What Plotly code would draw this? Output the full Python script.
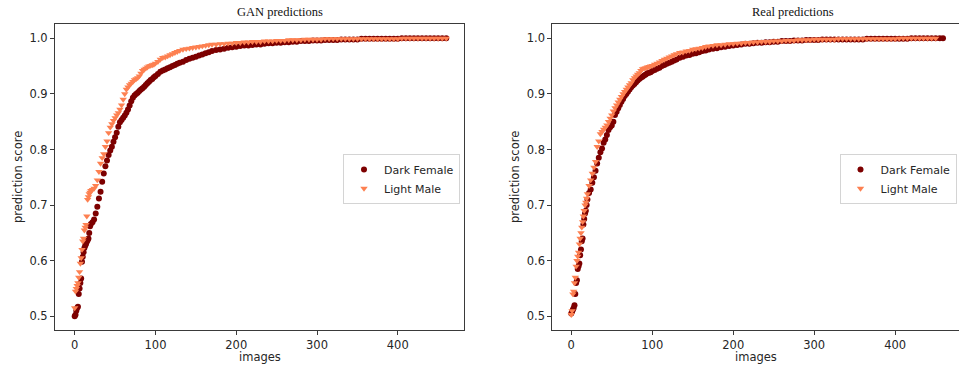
import plotly.graph_objects as go

# ---------------- data ----------------
series_names = ["Dark Female", "Light Male"]
panel_titles = ["GAN predictions", "Real predictions"]
x_ticks = [0, 100, 200, 300, 400]
y_ticks = [0.5, 0.6, 0.7, 0.8, 0.9, 1.0]

gan_idx = (list(range(0, 21)) + list(range(22, 101, 2)) + list(range(103, 131, 3))
           + list(range(134, 171, 4)) + list(range(175, 201, 5)) + list(range(205, 461, 5)))

gan_dark = [
    0.500, 0.503, 0.510, 0.515, 0.517, 0.540, 0.550, 0.560, 0.568, 0.598, 0.607,
    0.615, 0.623, 0.627, 0.630, 0.634, 0.637, 0.640, 0.650, 0.662, 0.666,
    0.669, 0.674, 0.685, 0.697, 0.712, 0.724, 0.742, 0.757, 0.770, 0.780,
    0.790, 0.798, 0.805, 0.814, 0.822, 0.830, 0.841, 0.849, 0.853, 0.857,
    0.861, 0.866, 0.872, 0.879, 0.887, 0.893, 0.897, 0.900, 0.902, 0.905,
    0.908, 0.910, 0.913, 0.916, 0.919, 0.922, 0.925, 0.927, 0.930, 0.932,
    0.936, 0.940, 0.942, 0.944, 0.946, 0.948, 0.950, 0.952, 0.954, 0.956,
    0.958, 0.961, 0.963, 0.965, 0.967, 0.969, 0.971, 0.973, 0.975, 0.977,
    0.979, 0.980, 0.981, 0.983, 0.984, 0.985,
    0.986, 0.987, 0.987, 0.988, 0.989, 0.989, 0.990, 0.991, 0.991, 0.992,
    0.992, 0.993, 0.993, 0.994, 0.994, 0.995, 0.995, 0.995, 0.996, 0.996,
    0.996, 0.997, 0.997, 0.997, 0.997, 0.998, 0.998, 0.998, 0.998, 0.998,
    0.999, 0.999, 0.999, 0.999, 0.999, 0.999, 0.999, 0.999, 0.999, 0.999,
    1.000, 1.000, 1.000, 1.000, 1.000, 1.000, 1.000, 1.000, 1.000, 1.000, 1.000, 1.000,
]

gan_light = [
    0.515, 0.545, 0.550, 0.555, 0.560, 0.570, 0.580, 0.595, 0.605, 0.620, 0.635,
    0.640, 0.655, 0.660, 0.665, 0.680, 0.710, 0.715, 0.720, 0.723, 0.726,
    0.728, 0.730, 0.735, 0.745, 0.760, 0.775, 0.785, 0.792, 0.805, 0.815,
    0.830, 0.840, 0.846, 0.852, 0.857, 0.862, 0.866, 0.872, 0.880, 0.890,
    0.900, 0.908, 0.912, 0.916, 0.919, 0.922, 0.925, 0.927, 0.929, 0.932,
    0.937, 0.942, 0.944, 0.946, 0.948, 0.950, 0.951, 0.952, 0.953, 0.955,
    0.958, 0.962, 0.965, 0.966, 0.968, 0.970, 0.972, 0.974, 0.976, 0.978,
    0.980, 0.981, 0.982, 0.983, 0.984, 0.985, 0.986, 0.987, 0.988, 0.989,
    0.989, 0.990, 0.990, 0.991, 0.991, 0.992,
    0.992, 0.993, 0.993, 0.994, 0.994, 0.994, 0.995, 0.995, 0.995, 0.996,
    0.996, 0.996, 0.997, 0.997, 0.997, 0.997, 0.998, 0.998, 0.998, 0.998,
    0.998, 0.999, 0.999, 0.999, 0.999, 0.999, 0.999, 0.999, 0.999, 0.999,
    0.999, 0.999, 0.999, 0.999, 0.999, 0.999, 0.999, 0.999, 0.999, 0.999,
    1.000, 1.000, 1.000, 1.000, 1.000, 1.000, 1.000, 1.000, 1.000, 1.000, 1.000, 1.000,
]

real_idx = (list(range(0, 21)) + list(range(22, 101, 2)) + list(range(103, 131, 3))
            + list(range(134, 171, 4)) + list(range(175, 201, 5)) + list(range(205, 451, 5)))
real_dark_idx = real_idx + [455, 459]

real_dark = [
    0.505, 0.508, 0.512, 0.515, 0.520, 0.540, 0.560, 0.565, 0.585, 0.590, 0.595,
    0.610, 0.620, 0.635, 0.640, 0.665, 0.675, 0.685, 0.690, 0.700, 0.710,
    0.722, 0.728, 0.740, 0.750, 0.762, 0.775, 0.785, 0.795, 0.802, 0.812,
    0.818, 0.826, 0.835, 0.840, 0.843, 0.850, 0.862, 0.868, 0.874, 0.880,
    0.886, 0.891, 0.896, 0.900, 0.904, 0.908, 0.912, 0.915, 0.918, 0.921,
    0.924, 0.927, 0.929, 0.931, 0.933, 0.935, 0.937, 0.938, 0.939, 0.941,
    0.943, 0.945, 0.947, 0.950, 0.952, 0.954, 0.956, 0.958, 0.960, 0.962,
    0.965, 0.967, 0.969, 0.970, 0.972, 0.973, 0.975, 0.977, 0.978, 0.980,
    0.981, 0.982, 0.984, 0.985, 0.986, 0.987,
    0.988, 0.989, 0.990, 0.990, 0.991, 0.992, 0.992, 0.993, 0.993, 0.994,
    0.994, 0.995, 0.995, 0.995, 0.996, 0.996, 0.996, 0.997, 0.997, 0.997,
    0.997, 0.998, 0.998, 0.998, 0.998, 0.998, 0.998, 0.998, 0.998, 0.998,
    0.998, 0.998, 0.999, 0.999, 0.999, 0.999, 0.999, 0.999, 0.999, 0.999,
    0.999, 0.999, 0.999, 1.000, 1.000, 1.000, 1.000, 1.000, 1.000, 1.000,
    1.000, 1.000,
]

real_light = [
    0.503, 0.510, 0.540, 0.545, 0.560, 0.570, 0.590, 0.600, 0.608, 0.615, 0.630,
    0.640, 0.650, 0.660, 0.670, 0.680, 0.690, 0.700, 0.705, 0.712, 0.720,
    0.735, 0.745, 0.757, 0.768, 0.778, 0.805, 0.815, 0.828, 0.832, 0.836,
    0.840, 0.844, 0.850, 0.856, 0.862, 0.869, 0.875, 0.880, 0.885, 0.890,
    0.895, 0.900, 0.904, 0.908, 0.912, 0.916, 0.920, 0.925, 0.929, 0.932,
    0.935, 0.938, 0.942, 0.945, 0.946, 0.947, 0.948, 0.949, 0.950, 0.951,
    0.953, 0.955, 0.957, 0.960, 0.962, 0.964, 0.966, 0.968, 0.970, 0.972,
    0.974, 0.975, 0.977, 0.978, 0.980, 0.981, 0.982, 0.983, 0.985, 0.986,
    0.987, 0.988, 0.988, 0.989, 0.990, 0.990,
    0.991, 0.991, 0.992, 0.992, 0.993, 0.993, 0.994, 0.994, 0.994, 0.995,
    0.995, 0.995, 0.996, 0.996, 0.996, 0.997, 0.997, 0.997, 0.997, 0.998,
    0.998, 0.998, 0.998, 0.998, 0.998, 0.999, 0.999, 0.999, 0.999, 0.999,
    0.999, 0.999, 0.999, 0.999, 0.999, 0.999, 0.999, 0.999, 0.999, 0.999,
    1.000, 1.000, 1.000, 1.000, 1.000, 1.000, 1.000, 1.000, 1.000, 1.000,
]

# ---------------- styling ----------------
W, H = 959, 371
DARK = "#7d0000"
LIGHT = "#fd8051"
AX_COLOR = "#3a3a3a"
TXT = "#262626"
SANS = "DejaVu Sans"
SERIF = "Liberation Serif"


def px(x):
    return x / W


def py(y):
    return (H - y) / H


fig = go.Figure()

panels = [
    (gan_idx, gan_dark, gan_idx, gan_light, "x", "y", "legend"),
    (real_dark_idx, real_dark, real_idx, real_light, "x2", "y2", "legend2"),
]
for dx, dy, lx, ly, xa, ya, lg in panels:
    fig.add_trace(go.Scatter(
        x=dx, y=dy, mode="markers", name=series_names[0], xaxis=xa, yaxis=ya,
        legend=lg, marker=dict(symbol="circle", size=6, color=DARK, line=dict(width=0)),
        hoverinfo="skip"))
    fig.add_trace(go.Scatter(
        x=lx, y=ly, mode="markers", name=series_names[1], xaxis=xa, yaxis=ya,
        legend=lg, marker=dict(symbol="triangle-down", size=6.5, color=LIGHT, line=dict(width=0)),
        hoverinfo="skip"))

axis_common = dict(
    showline=True, linecolor=AX_COLOR, linewidth=1, mirror=True,
    ticks="outside", ticklen=4, tickwidth=1, tickcolor=AX_COLOR,
    showgrid=False, zeroline=False,
    tickfont=dict(family=SANS, size=11.5, color=TXT),
)

legend_common = dict(
    xanchor="left", yanchor="top", bgcolor="white", bordercolor="#d4d4d4",
    borderwidth=1, font=dict(family=SANS, size=11, color=TXT), itemwidth=30,
    tracegroupgap=0,
)

ydom = [py(330), py(24)]
fig.update_layout(
    width=W, height=H,
    margin=dict(l=0, r=0, t=0, b=0),
    paper_bgcolor="white", plot_bgcolor="white",
    xaxis=dict(domain=[px(55), px(464)], range=[-24.4, 482], tickvals=x_ticks,
               anchor="y", **axis_common),
    yaxis=dict(domain=ydom, range=[0.4754, 1.0257], tickvals=y_ticks, tickformat=".1f",
               anchor="x", **axis_common),
    xaxis2=dict(domain=[px(552.3), 1.0], range=[-23.4, 478.8], tickvals=x_ticks,
                anchor="y2", **axis_common),
    yaxis2=dict(domain=ydom, range=[0.4754, 1.0257], tickvals=y_ticks, tickformat=".1f",
                anchor="x2", **axis_common),
    legend=dict(x=px(343), y=py(154), **legend_common),
    legend2=dict(x=px(839.5), y=py(154), **legend_common),
    showlegend=True,
)

annotations = [
    dict(text=panel_titles[0], x=px(280), y=py(12.5), font=dict(family=SERIF, size=12.5, color="#111")),
    dict(text=panel_titles[1], x=px(793), y=py(12.5), font=dict(family=SERIF, size=12.5, color="#111")),
    dict(text="images", x=px(259.5), y=py(357), font=dict(family=SANS, size=11.5, color=TXT)),
    dict(text="images", x=px(756), y=py(357), font=dict(family=SANS, size=11.5, color=TXT)),
    dict(text="prediction score", x=px(18), y=py(177), textangle=-90,
         font=dict(family=SANS, size=11.5, color=TXT)),
    dict(text="prediction score", x=px(515), y=py(177), textangle=-90,
         font=dict(family=SANS, size=11.5, color=TXT)),
]
for a in annotations:
    a.update(xref="paper", yref="paper", xanchor="center", yanchor="middle", showarrow=False)
fig.update_layout(annotations=annotations)

fig.write_html(
    "out.html",
    config={"displayModeBar": False, "staticPlot": True},
    post_script="document.body.style.margin='0';document.body.style.overflow='hidden';",
)
